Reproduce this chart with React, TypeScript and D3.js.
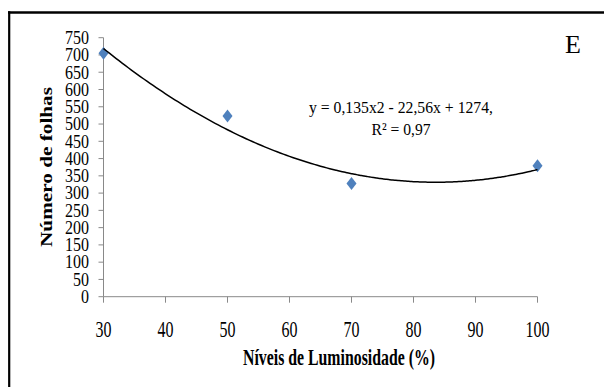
import React from 'react';
import * as d3 from 'd3';

// luminosity levels (%) and leaf counts
const levels = [30, 50, 70, 100];
const leaves = [705, 523, 328, 379];

const xTicks = [30, 40, 50, 60, 70, 80, 90, 100];
const yTicks = [0, 50, 100, 150, 200, 250, 300, 350, 400, 450, 500, 550, 600, 650, 700, 750];

// polynomial trend as printed on the chart: y = 0,135x2 - 22,56x + 1274
const trendCoef = [0.135, -22.56, 1274];
const trendLabel = 'y = 0,135x2 - 22,56x + 1274,';
const r2Label = 'R² = 0,97';
const panelLetter = 'E';
const xTitle = 'Níveis de Luminosidade (%)';
const yTitle = 'Número de folhas';

const W = 604;
const H = 387;
const FONT = '"Liberation Serif", "Times New Roman", serif';
const AXIS = '#898989';
const BLUE = '#4F81BD';

const App = () => {
  const x = d3.scaleLinear().domain([30, 100]).range([103.5, 537.5]);
  const y = d3.scaleLinear().domain([0, 750]).range([296.7, 37.7]);

  const trend = (v: number) => trendCoef[0] * v * v + trendCoef[1] * v + trendCoef[2];
  const trendPts = d3.range(30, 100.01, 0.5).map(v => [v, trend(v)] as [number, number]);
  const line = d3.line<[number, number]>()
    .x(d => x(d[0]))
    .y(d => y(d[1]))
    .curve(d3.curveMonotoneX);

  return (
    <svg width={W} height={H} style={{ position: 'absolute', left: 0, top: 0, display: 'block', background: '#fff' }}
      fontFamily={FONT}>
      {/* frame (only top and left edges show) */}
      <line x1={8} x2={W} y1={12.5} y2={12.5} stroke="#000" strokeWidth={2.5} />
      <line x1={9.2} x2={9.2} y1={11.3} y2={H} stroke="#000" strokeWidth={2.2} />

      {/* y axis */}
      <line x1={x(30)} x2={x(30)} y1={y(750)} y2={y(0)} stroke={AXIS} strokeWidth={1} />
      {yTicks.map(t => (
        <g key={'yt' + t}>
          <line x1={x(30) - 5} x2={x(30)} y1={y(t)} y2={y(t)} stroke={AXIS} strokeWidth={1} />
          <text transform={`translate(89,${y(t) + 6.3}) scale(1,1.17)`} fontSize={16} textAnchor="end" fill="#000">
            {t}
          </text>
        </g>
      ))}

      {/* x axis */}
      <line x1={x(30)} x2={x(100)} y1={y(0)} y2={y(0)} stroke={AXIS} strokeWidth={1} />
      {xTicks.map(t => (
        <g key={'xt' + t}>
          <line x1={x(t)} x2={x(t)} y1={y(0)} y2={y(0) + 6} stroke={AXIS} strokeWidth={1} />
          <text transform={`translate(${x(t)},336.7) scale(1,1.4)`} fontSize={16} textAnchor="middle" fill="#000">
            {t}
          </text>
        </g>
      ))}

      {/* axis titles */}
      <text transform="translate(339,365) scale(1,1.4)" fontSize={16} fontWeight="bold" textAnchor="middle"
        textLength={192} lengthAdjust="spacingAndGlyphs">
        {xTitle}
      </text>
      <text transform="translate(52,167) rotate(-90)" fontSize={17} fontWeight="bold" textAnchor="middle"
        textLength={160} lengthAdjust="spacingAndGlyphs">
        {yTitle}
      </text>

      {/* data markers */}
      {levels.map((l, i) => (
        <path key={'m' + l} transform={`translate(${x(l)},${y(leaves[i])})`}
          d="M0,-6.5L5,0L0,6.5L-5,0Z" fill={BLUE} />
      ))}

      {/* trend line */}
      <path d={line(trendPts) || ''} fill="none" stroke="#000" strokeWidth={1.5} />

      {/* equation */}
      <text x={401} y={113} fontSize={17} textAnchor="middle" textLength={184} lengthAdjust="spacingAndGlyphs">
        {trendLabel}
      </text>
      <text x={401} y={135} fontSize={17} textAnchor="middle" textLength={59} lengthAdjust="spacingAndGlyphs">
        {r2Label}
      </text>

      <text x={573} y={53} fontSize={26} textAnchor="middle">{panelLetter}</text>
    </svg>
  );
};

export default App;
